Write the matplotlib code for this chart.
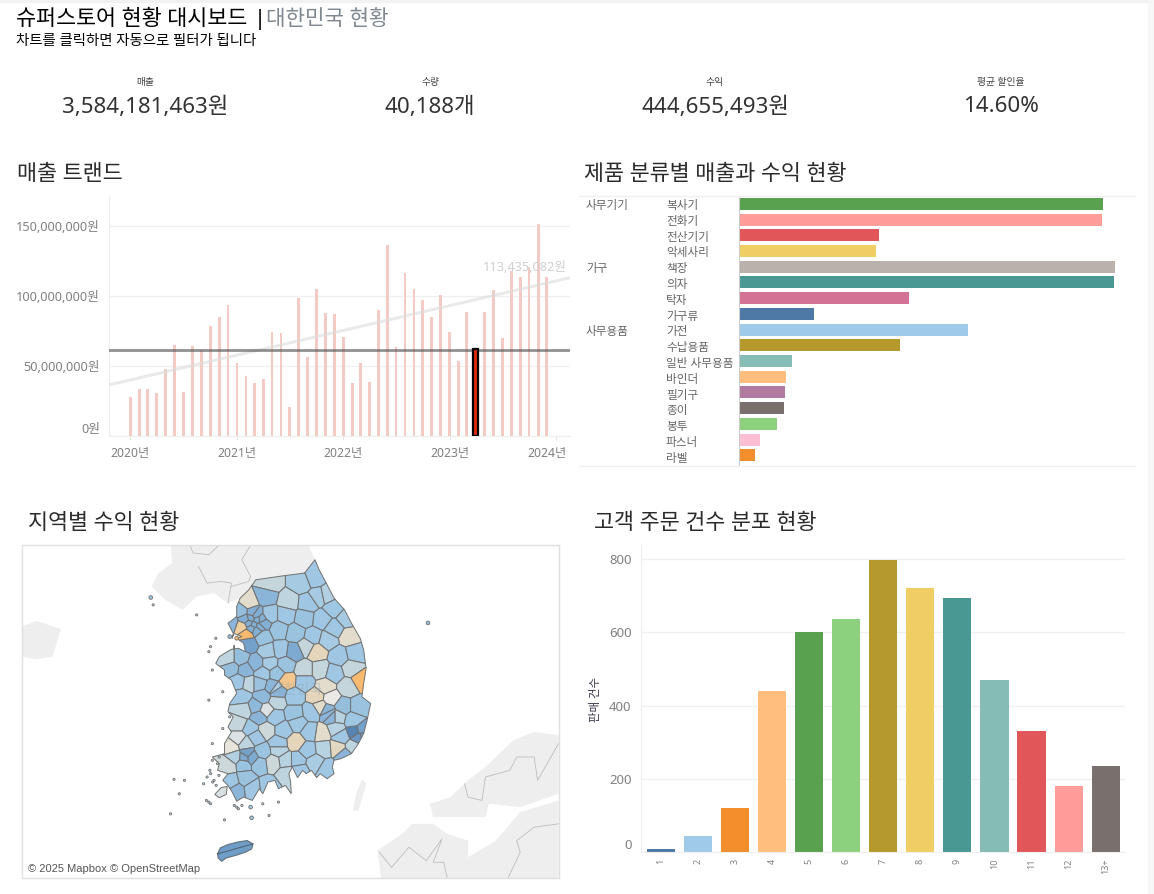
import matplotlib
matplotlib.use('Agg')
import matplotlib.pyplot as plt
import matplotlib.dates as mdates
import matplotlib.transforms as mtrans
from matplotlib.colors import LinearSegmentedColormap
import numpy as np
import pandas as pd

plt.rcParams['font.family'] = ['Noto Sans', 'Noto Sans CJK KR', 'DejaVu Sans']
plt.rcParams['axes.unicode_minus'] = False

W, H = 1154, 894

# KPI
kpi_names = ['매출', '수량', '수익', '평균 할인율']
kpi_values = ['3,584,181,463원', '40,188개', '444,655,493원', '14.60%']

# 매출 트랜드 (백만원)
months = pd.date_range('2020-01-01', periods=48, freq='MS')
sales = [27.9, 33.6, 33.6, 30.7, 47.9, 65.0, 31.4, 64.3, 61.4, 78.6, 85.0, 93.6,
         52.1, 42.9, 37.9, 40.7, 74.3, 73.6, 20.7, 98.6, 56.4, 105.0, 87.9, 87.1,
         70.7, 37.9, 52.1, 38.6, 90.0, 136.4, 63.6, 116.4, 105.0, 97.1, 85.0, 100.7,
         74.3, 53.6, 88.6, 62.1, 88.6, 104.3, 70.0, 117.9, 113.6, 121.0, 151.4, 113.4]
selected_month = 39
sales_avg = 61.7
trend_ends = [36.4, 113.0]

# 제품 분류별
groups = ['사무기기', '', '', '', '가구', '', '', '', '사무용품', '', '', '', '', '', '', '', '']
products = ['복사기', '전화기', '전산기기', '악세사리', '책장', '의자', '탁자', '가구류', '가전',
            '수납용품', '일반 사무용품', '바인더', '필기구', '종이', '봉투', '파스너', '라벨']
product_sales = [526, 525, 202, 198, 543, 542, 246, 108, 331, 233, 77, 68, 67, 65, 55, 30, 23]
product_colors = ['#59A14F', '#FF9D9A', '#E15759', '#F1CE63', '#BAB0AC', '#499894', '#D37295', '#4E79A7',
                  '#A0CBE8', '#B6992D', '#86BCB6', '#FFBE7D', '#B07AA1', '#79706E', '#8CD17D', '#FABFD2', '#F28E2B']

# 고객 주문 건수
order_bins = ['1', '2', '3', '4', '5', '6', '7', '8', '9', '10', '11', '12', '13+']
order_counts = [8, 44, 120, 440, 601, 637, 798, 722, 694, 470, 331, 180, 235]
order_colors = ['#4E79A7', '#A0CBE8', '#F28E2B', '#FFBE7D', '#59A14F', '#8CD17D', '#B6992D', '#F1CE63',
                '#499894', '#86BCB6', '#E15759', '#FF9D9A', '#79706E']

# 지도 (지도 좌표)
korea_x = [850, 862, 885, 905, 935, 955, 980, 990, 997, 990, 985, 1010, 1000, 990, 975, 955, 925, 905, 900, 905, 885, 865,
           855, 840, 825, 815, 800, 785, 775, 780, 782, 765, 745, 735, 715, 700, 690, 670, 645, 625, 612, 600, 585, 600,
           570, 575, 555, 590, 590, 610, 600, 615, 600, 605, 625, 610, 590, 590, 565, 575, 590, 610, 630, 650, 645, 625,
           640, 615, 600, 625, 625, 635, 660, 680, 760, 820]
korea_y = [60, 90, 135, 175, 210, 250, 295, 330, 385, 430, 470, 490, 540, 580, 610, 640, 655, 660, 680, 700, 715, 700,
           712, 690, 700, 690, 712, 680, 700, 725, 760, 735, 745, 720, 725, 760, 745, 780, 770, 782, 755, 735, 720, 700,
           690, 670, 650, 640, 610, 575, 560, 530, 515, 490, 460, 420, 405, 390, 370, 350, 340, 328, 325, 335, 310, 295,
           290, 280, 250, 230, 200, 175, 150, 120, 108, 100]
jeju_x = [570, 578, 600, 630, 655, 672, 668, 650, 620, 595, 582, 572]
jeju_y = [940, 922, 912, 904, 900, 910, 925, 935, 945, 952, 962, 952]
jindo_x = [562, 580, 598, 595, 575]
jindo_y = [762, 742, 738, 762, 772]
north_x = [435, 830, 850, 820, 680, 660, 635, 600, 560, 510, 470, 420, 380, 400, 440]
north_y = [16, 16, 60, 100, 120, 150, 175, 190, 160, 170, 210, 180, 140, 100, 70]
west_x = [8, 50, 120, 95, 50, 8]
west_y = [260, 243, 268, 350, 358, 350]
japan1_x = [1180, 1240, 1290, 1340, 1420, 1480, 1550, 1550, 1440, 1350, 1340, 1190]
japan1_y = [790, 770, 720, 680, 600, 575, 585, 760, 800, 790, 830, 830]
japan2_x = [1030, 1100, 1130, 1190, 1230, 1290, 1290, 1370, 1440, 1550, 1550, 1040]
japan2_y = [930, 880, 850, 850, 880, 900, 950, 900, 815, 780, 1012, 1012]
tsushima_x = [985, 998, 975, 960, 968]
tsushima_y = [718, 730, 810, 810, 760]
border1_x = [490, 500, 545, 575]
border1_y = [16, 40, 45, 16]
border2_x = [515, 540, 580, 610, 600]
border2_y = [80, 130, 125, 130, 190]
border3_x = [665, 640, 665, 660, 610]
border3_y = [16, 60, 110, 125, 140]
border4_x = [1280, 1290, 1330, 1340, 1410, 1430, 1480, 1490, 1550]
border4_y = [730, 770, 780, 710, 690, 650, 650, 720, 610]
border5_x = [1035, 1070, 1120, 1170, 1215, 1190, 1220, 1230]
border5_y = [935, 980, 920, 960, 895, 965, 965, 1012]
border6_x = [1405, 1440, 1430, 1480, 1550]
border6_y = [1012, 935, 900, 860, 850]
isle_x = [378, 385, 510, 565, 550, 545, 555, 585, 545, 605, 585, 555, 445, 475, 530, 460, 435, 590, 668, 718, 625,
          665, 545, 555, 570, 550, 560, 575, 605, 625, 1175, 540, 548, 556, 566, 574, 538, 550, 618, 630, 640, 700, 745]
isle_y = [173, 195, 225, 295, 320, 335, 390, 455, 480, 530, 565, 610, 717, 720, 730, 760, 820, 838, 832, 825, 800,
          800, 785, 660, 670, 700, 720, 650, 290, 295, 249, 710, 690, 725, 735, 705, 780, 790, 795, 805, 795, 790, 785]
isle_profit = [0.5, 0.3, 0.3, 0.3, 0.3, 0.3, 0.3, 0.3, 0.3, 0.3, 0.3, 0.3, 0.3, 0.3, 0.3, 0.3, 0.3, 0.3, 0.5, 0.3, 0.3,
               0.5, 0.3, 0.3, 0.3, 0.3, 0.3, 0.3, 0.6, -0.9, 0.6, 0.3, 0.3, 0.3, 0.3, 0.3, 0.3, 0.3, 0.3, 0.3, 0.3, 0.3, 0.3]
region_x = [720, 660, 710, 775, 810, 850, 860, 885, 830, 905, 870, 905, 950, 940, 820, 765, 720, 745, 795, 845, 885,
            965, 920, 855, 825, 790, 750, 715, 680, 660, 635, 600, 610, 650, 665, 680, 695, 675, 660, 690, 640, 605,
            610, 640, 655, 700, 720, 765, 740, 700, 820, 865, 905, 955, 980, 770, 820, 880, 945, 660, 630, 690, 735,
            700, 855, 895, 930, 975, 790, 740, 640, 680, 645, 710, 865, 840, 890, 790, 630, 665, 690, 735, 915, 910,
            965, 985, 960, 710, 760, 800, 870, 835, 925, 795, 745, 630, 680, 610, 650, 655, 620, 700, 745, 830, 875,
            915, 960, 935, 730, 765, 690, 645, 600, 800, 850, 885, 805, 770, 650, 610, 625, 670, 715,
            670, 685, 650, 700, 668, 682, 728, 742, 648, 668, 975, 990, 885, 900]
region_y = [130, 190, 170, 185, 130, 115, 170, 165, 190, 205, 240, 265, 290, 235, 235, 225, 225, 270, 280, 290, 300,
            340, 350, 335, 320, 335, 330, 335, 370, 310, 355, 355, 385, 390, 235, 225, 240, 255, 250, 260, 215, 215,
            250, 260, 282, 290, 370, 375, 400, 400, 390, 390, 400, 385, 420, 422, 425, 440, 440, 430, 425, 430, 445,
            470, 470, 475, 500, 500, 470, 485, 470, 500, 510, 510, 500, 515, 520, 520, 550, 565, 530, 530, 530, 565,
            575, 570, 540, 570, 570, 550, 580, 575, 590, 605, 610, 595, 590, 620, 610, 640, 650, 635, 630, 630, 625,
            622, 620, 645, 665, 660, 670, 670, 675, 660, 665, 685, 690, 700, 715, 725, 750, 745, 740,
            218, 240, 238, 250, 265, 270, 440, 455, 652, 652, 590, 585, 510, 530]
region_profit = [0.15, -0.1, 0.7, 0.2, 0.45, 0.5, 0.45, 0.3, 0.5, 0.5, 0.5, 0.5, -0.1, 0.45, 0.55, 0.5, 0.5, 0.55, 0.55, 0.5, 0.45,
                 0.5, 0.5, -0.2, 0.15, 0.8, 0.5, 0.45, 0.7, 0.85, 0.6, 0.2, 0.6, 0.7, 0.75, 0.75, 0.75, 0.75, 0.75, 0.75, 0.6, 0.15,
                 0.7, -0.4, -0.9, 0.55, 0.45, 0.55, 0.55, 0.5, 0.15, 0.15, 0.5, 0.15, -0.9, -0.6, 0.5, -0.1, 0.15, 0.2, 0.5, 0.55, 0.35,
                 0.65, -0.2, -0.02, 0.6, 0.55, 0.5, 0.2, 0.5, 0.65, 0.2, 0.05, -0.1, 0.5, 0.7, 0.55, 0.15, 0.5, 0.7, 0.5, 0.25, 0.25,
                 1.0, 0.85, 0.5, 0.1, 0.5, 0.5, -0.1, 0.5, 0.5, -0.2, 0.5, 0.05, 0.5, -0.05, 0.2, 0.85, 0.3, 0.55, 0.25, 0.5, 0.25,
                 -0.15, 0.2, 0.7, 0.1, 0.25, 0.55, 0.55, 0.1, 0.5, 0.4, 0.5, 0.5, 0.2, 0.55, 0.5, 0.7, 0.5, 0.5,
                 0.75, 0.75, 0.75, 0.75, 0.75, 0.75, 0.7, 0.7, 0.8, 0.8, 0.9, 0.85, 0.7, 0.7]


def add_axes_px(left, top, right, bottom):
    return fig.add_axes([left / W, 1 - bottom / H, (right - left) / W, (bottom - top) / H])


def put_text(x, y, s, **kw):
    kw.setdefault('va', 'center')
    return fig.text(x / W, 1 - y / H, s, **kw)


def clip_cell(poly, p, q):
    # keep the part of poly closer to p than to q
    mid = (p + q) / 2
    n = q - p
    out = []
    for i in range(len(poly)):
        a, b = poly[i], poly[(i + 1) % len(poly)]
        da, db = (a - mid) @ n, (b - mid) @ n
        if da <= 0:
            out.append(a)
        if da * db < 0:
            out.append(a + (b - a) * da / (da - db))
    return np.array(out) if out else np.empty((0, 2))


fig = plt.figure(figsize=(W / 100, H / 100), dpi=100, facecolor='white')
title_color = '#2b2b2b'
tick_color = '#808080'
grid_color = '#f0f0f0'

# 제목
fig.patches.append(plt.Rectangle((0, 1 - 1.5 / H), 1, 1.5 / H, transform=fig.transFigure, color='#f2f2f2'))
fig.patches.append(plt.Rectangle((1148 / W, 0), 6 / W, 1, transform=fig.transFigure, color='#f7f7f7'))
put_text(16, 19.5, '슈퍼스토어 현황 대시보드', fontsize=15.7, fontweight='medium', color='black')
put_text(254, 19.5, '|', fontsize=15.7, fontweight='medium', color='black')
put_text(266, 19.5, '대한민국 현황', fontsize=15.3, fontweight='light', color='#7f8790')
put_text(16, 41.5, '차트를 클릭하면 자동으로 필터가 됩니다', fontsize=10.4, color='black')

for x, name, value in zip([145, 430, 715, 1001], kpi_names, kpi_values):
    put_text(x, 82, name, fontsize=7, ha='center', color='#444444')
    put_text(x, 107, value, fontsize=16.1, ha='center', color='#333333')

put_text(17, 174.5, '매출 트랜드', fontsize=15.7, fontweight='medium', color=title_color)
put_text(584, 174.5, '제품 분류별 매출과 수익 현황', fontsize=15.7, fontweight='medium', color=title_color)
put_text(28, 523.5, '지역별 수익 현황', fontsize=15.7, fontweight='medium', color=title_color)
put_text(594, 523.5, '고객 주문 건수 분포 현황', fontsize=15.7, fontweight='medium', color=title_color)

# 매출 트랜드
ax1 = add_axes_px(108.5, 196, 569.6, 436)
bar_colors = ['#f3cbc4'] * len(sales)
ax1.bar(months, sales, width=9.5, color=bar_colors, zorder=2)
ax1.bar(months[selected_month], sales[selected_month], width=16, color='#e32b0a', edgecolor='black', linewidth=1.6, zorder=5)
ax1.axhline(sales_avg, color='#555555', alpha=0.65, lw=2, zorder=4)
ax1.plot([pd.Timestamp('2019-10-18'), pd.Timestamp('2024-02-17')], trend_ends, color='#dddddd', alpha=0.6, lw=2.2, zorder=3)
ax1.set_xlim(pd.Timestamp('2019-10-18'), pd.Timestamp('2024-02-17'))
ax1.set_ylim(0, 171.4)
ax1.set_yticks([0, 50, 100, 150])
ax1.set_yticklabels(['0원', '50,000,000원', '100,000,000원', '150,000,000원'])
ax1.xaxis.set_major_locator(mdates.YearLocator())
ax1.xaxis.set_major_formatter(mdates.DateFormatter('%Y년'))
ax1.xaxis.set_minor_locator(mdates.MonthLocator(bymonth=[4, 7, 10]))
ax1.tick_params(axis='x', which='major', length=3, color='#e6e6e6', labelsize=8.8, labelcolor=tick_color, pad=5)
ax1.tick_params(axis='x', which='minor', length=1.5, color='#eeeeee')
ax1.tick_params(axis='y', length=0, labelsize=9.2, labelcolor=tick_color, pad=6)
ax1.grid(axis='y', color=grid_color, lw=1, zorder=0)
ax1.set_axisbelow(True)
for s in ['top', 'right']:
    ax1.spines[s].set_visible(False)
ax1.spines['left'].set_color('#eeeeee')
ax1.spines['bottom'].set_color('#eeeeee')
ax1.get_yticklabels()[0].set_va('bottom')
last_label = ax1.get_xticklabels()[-1]
last_label.set_transform(last_label.get_transform() + mtrans.ScaledTranslation(-0.09, 0, fig.dpi_scale_trans))
put_text(567, 267, '113,435,082원', fontsize=9.2, ha='right', color='#cfcfcf')

# 제품 분류별
ax2 = add_axes_px(739, 196, 1135, 466)
row_pos = np.arange(len(products))
ax2.barh(row_pos, product_sales, height=0.76, color=product_colors, zorder=2)
ax2.set_xlim(0, 572)
ax2.set_ylim(16.68, -0.5)
ax2.set_xticks([])
ax2.set_yticks([])
for s in ['top', 'right', 'bottom']:
    ax2.spines[s].set_visible(False)
ax2.spines['left'].set_color('#cccccc')
fig.add_artist(plt.Line2D([579 / W, 1135 / W], [1 - 196 / H] * 2, color='#f0f0f0', lw=1))
fig.add_artist(plt.Line2D([579 / W, 1135 / W], [1 - 465.5 / H] * 2, color='#f0f0f0', lw=1))
for i, (g, p) in enumerate(zip(groups, products)):
    y_px = 206.5 + i * 15.8
    if g:
        put_text(586, y_px, g, fontsize=8.4, color='#666666')
    put_text(666, y_px, p, fontsize=8.4, color='#666666')

# 지역별 지도
ax3 = add_axes_px(22, 545, 558.5, 878)
ax3.set_xlim(8, 1550)
ax3.set_ylim(1012, 16)
ax3.set_xticks([])
ax3.set_yticks([])
for s in ax3.spines.values():
    s.set_color('#e0e0e0')
    s.set_linewidth(1)
for lx, ly in [(north_x, north_y), (west_x, west_y), (japan1_x, japan1_y), (japan2_x, japan2_y), (tsushima_x, tsushima_y)]:
    ax3.fill(lx, ly, color='#eeeeee', lw=0, zorder=1)
for lx, ly in [(border1_x, border1_y), (border2_x, border2_y), (border3_x, border3_y),
               (border4_x, border4_y), (border5_x, border5_y), (border6_x, border6_y)]:
    ax3.plot(lx, ly, color='#bdbdbd', lw=0.6, zorder=2)

profit_cmap = LinearSegmentedColormap.from_list('profit', [(0, '#f9b565'), (0.3, '#efcf9f'), (0.44, '#e0d8c6'), (0.5, '#ececec'),
                                                           (0.55, '#ccd8da'), (0.62, '#b8d3e0'), (0.75, '#a0c8e3'), (0.9, '#7fabd2'), (1, '#5584b3')])
seeds = np.column_stack([region_x, region_y]).astype(float)
outline = np.column_stack([korea_x, korea_y]).astype(float)
for i, p in enumerate(seeds):
    cell = outline
    order = np.argsort(np.hypot(*(seeds - p).T))
    for j in order[1:40]:
        if len(cell) == 0:
            break
        cell = clip_cell(cell, p, seeds[j])
    if len(cell):
        ax3.fill(cell[:, 0], cell[:, 1], facecolor=profit_cmap((region_profit[i] + 1) / 2), edgecolor='#707070', lw=0.7, zorder=3)
ax3.fill(jeju_x, jeju_y, facecolor='#6e9dc7', edgecolor='#5f6f7c', lw=0.8, zorder=3)
ax3.plot([jeju_x[0], 620, jeju_x[5]], [jeju_y[0], 925, jeju_y[5]], color='#4f5f6c', lw=0.7, zorder=4)
ax3.fill(jindo_x, jindo_y, facecolor=profit_cmap(0.53), edgecolor='#707070', lw=0.7, zorder=3)
ax3.scatter(isle_x, isle_y, s=[7 if v != 0.3 else 2.5 for v in isle_profit],
            c=[profit_cmap((v + 1) / 2) for v in isle_profit], edgecolors='#707070', linewidths=0.6, zorder=4)
ax3.text(800, 450, '대한민국', fontsize=10, color='#7f9fb8', alpha=0.35, ha='center', va='center', zorder=5)
ax3.text(26, 985, '© 2025 Mapbox © OpenStreetMap', fontsize=8, color='#555555', family=['Liberation Sans'],
         va='center', ha='left', zorder=6, bbox=dict(facecolor='white', alpha=0.7, lw=0, pad=1.5))

# 고객 주문 건수
ax4 = add_axes_px(641.4, 545, 1125, 852)
ax4.bar(np.arange(len(order_bins)), order_counts, width=0.76, color=order_colors, zorder=2)
ax4.set_xlim(-0.52, 12.52)
ax4.set_ylim(0, 307 / 0.366)
ax4.set_xticks(np.arange(len(order_bins)))
ax4.set_xticklabels(order_bins, rotation=90)
ax4.set_yticks([0, 200, 400, 600, 800])
ax4.tick_params(axis='x', length=0, labelsize=6.5, labelcolor=tick_color, pad=5)
ax4.tick_params(axis='y', length=0, labelsize=9.5, labelcolor=tick_color, pad=7)
ax4.grid(axis='y', color=grid_color, lw=1, zorder=0)
ax4.set_axisbelow(True)
for s in ['top', 'right']:
    ax4.spines[s].set_visible(False)
ax4.spines['left'].set_color('#eeeeee')
ax4.spines['bottom'].set_color('#eeeeee')
ax4.get_yticklabels()[0].set_va('bottom')
put_text(597, 700, '판매 건수', fontsize=8.2, rotation=90, ha='center', color='#3a2f45')

plt.savefig('out.png', dpi=100)
